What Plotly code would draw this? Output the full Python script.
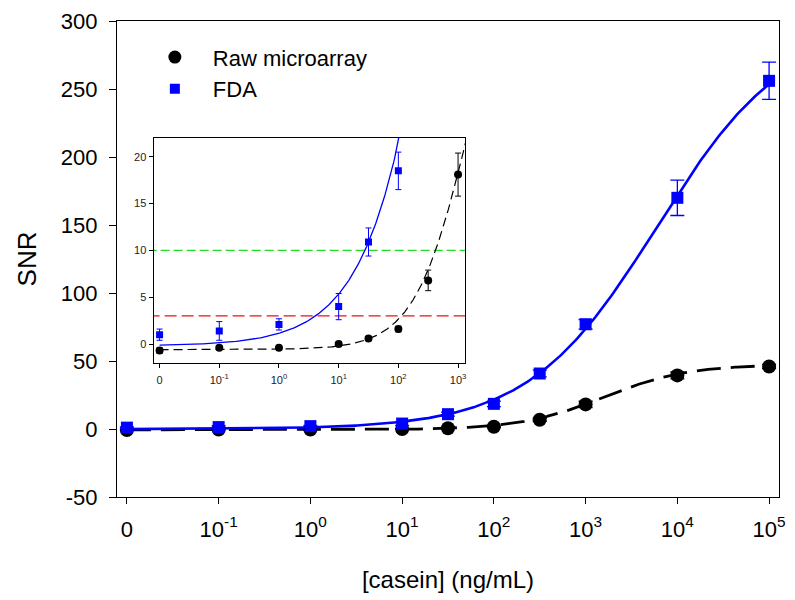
import numpy as np
import plotly.graph_objects as go

# ---- data ----
conc = [0, 0.1, 1, 10, 31.6, 100, 316, 1000, 10000, 100000]
raw_snr = [-0.7, -0.4, -0.4, 0.0, 0.6, 1.6, 6.8, 18.1, 39.4, 46.0]
raw_err = [0.3, 0.2, 0.2, 0.2, 0.2, 0.3, 1.1, 2.3, 2.5, 1.5]
fda_snr = [1.0, 1.4, 2.1, 4.0, 10.9, 18.5, 40.8, 77.0, 170.0, 256.0]
fda_err = [0.6, 1.0, 0.6, 1.4, 1.5, 2.0, 2.5, 3.5, 13.0, 13.7]

tick_pos = [-2, -1, 0, 1, 2, 3, 4, 5]
tick_txt = ["0", "10<sup>-1</sup>", "10<sup>0</sup>", "10<sup>1</sup>", "10<sup>2</sup>",
            "10<sup>3</sup>", "10<sup>4</sup>", "10<sup>5</sup>"]
inset_tick_pos = [-2, -1, 0, 1, 2, 3]
inset_tick_txt = tick_txt[:6]
y_ticks = [-50, 0, 50, 100, 150, 200, 250, 300]
y_tick_txt = ["-50", "0", "50", "100", "150", "200", "250", "300"]
inset_y_ticks = [0, 5, 10, 15, 20]

# four-parameter logistic fits (bottom, top, log10 EC50, hill slope)
raw_fit = (-0.6, 47.5, 3.2, 0.95)
fda_fit = (-0.2, 298.0, 3.78, 0.62)
lod_lines = [3, 10]

ZERO_POS = -2  # the "0" concentration is drawn one decade left of 10^-1


def pos(c):
    return np.log10(c) if c > 0 else ZERO_POS


xp = [pos(c) for c in conc]


def logistic(p, lx):
    b, t, c, h = p
    return b + (t - b) / (1 + 10 ** ((c - lx) * h))


lx = np.linspace(-2, 5, 400)
raw_curve = logistic(raw_fit, lx)
fda_curve = logistic(fda_fit, lx)

FONT = "Liberation Sans, Arial, sans-serif"
fig = go.Figure()

# main curves
fig.add_trace(go.Scatter(x=lx, y=raw_curve, mode="lines", showlegend=False,
                         line=dict(color="black", width=2.8, dash="24px,10px")))
fig.add_trace(go.Scatter(x=lx, y=fda_curve, mode="lines", showlegend=False,
                         line=dict(color="#0000ff", width=2.6)))
# main points
fig.add_trace(go.Scatter(x=xp, y=raw_snr, mode="markers", showlegend=False,
                         marker=dict(symbol="circle", size=14, color="black"),
                         error_y=dict(type="data", array=raw_err, color="black", width=7, thickness=1.3)))
fig.add_trace(go.Scatter(x=xp, y=fda_snr, mode="markers", showlegend=False,
                         marker=dict(symbol="square", size=12, color="#0000ff"),
                         error_y=dict(type="data", array=fda_err, color="#0000ff", width=7, thickness=1.3)))

# legend entries
fig.add_trace(go.Scatter(x=[None], y=[None], mode="markers", name="Raw microarray",
                         marker=dict(symbol="circle", size=13, color="black")))
fig.add_trace(go.Scatter(x=[None], y=[None], mode="markers", name="FDA",
                         marker=dict(symbol="square", size=10, color="#0000ff")))

# inset
lxi = np.linspace(-2, 3.2, 400)
fig.add_trace(go.Scatter(x=[-2.2, 3.3], y=[lod_lines[1]] * 2, mode="lines", xaxis="x2", yaxis="y2",
                         showlegend=False, line=dict(color="#22dd22", width=1.3, dash="9px,4px")))
fig.add_trace(go.Scatter(x=[-2.2, 3.3], y=[lod_lines[0]] * 2, mode="lines", xaxis="x2", yaxis="y2",
                         showlegend=False, line=dict(color="#ee1111", width=1.3, dash="12px,5px")))
fig.add_trace(go.Scatter(x=lxi, y=logistic(raw_fit, lxi), mode="lines", xaxis="x2", yaxis="y2",
                         showlegend=False, line=dict(color="black", width=1.2, dash="9px,5px")))
fig.add_trace(go.Scatter(x=lxi, y=logistic(fda_fit, lxi), mode="lines", xaxis="x2", yaxis="y2",
                         showlegend=False, line=dict(color="#0000ff", width=1.3)))
fig.add_trace(go.Scatter(x=xp[:8], y=raw_snr[:8], mode="markers", xaxis="x2", yaxis="y2", showlegend=False,
                         marker=dict(symbol="circle", size=8, color="black"),
                         error_y=dict(type="data", array=raw_err[:8], color="black", width=3, thickness=1)))
fig.add_trace(go.Scatter(x=xp[:6], y=fda_snr[:6], mode="markers", xaxis="x2", yaxis="y2", showlegend=False,
                         marker=dict(symbol="square", size=7, color="#0000ff"),
                         error_y=dict(type="data", array=fda_err[:6], color="#0000ff", width=3, thickness=1)))

axis_common = dict(showline=True, linecolor="black", linewidth=1.3, mirror=True,
                   showgrid=False, zeroline=False, ticks="outside", tickcolor="black")

fig.update_layout(
    width=795, height=600,
    margin=dict(l=117, r=9, t=18, b=103),
    plot_bgcolor="white", paper_bgcolor="white",
    font=dict(family=FONT, color="black"),
    xaxis=dict(axis_common, range=[-2.108, 5.108], tickvals=tick_pos, ticktext=tick_txt,
               ticklen=6, tickfont=dict(size=22), ticklabelstandoff=6,
               title=dict(text="[casein] (ng/mL)", font=dict(size=24), standoff=30)),
    yaxis=dict(axis_common, range=[-50, 300], tickvals=y_ticks, ticktext=y_tick_txt,
               ticklen=7, tickfont=dict(size=22), ticklabelstandoff=7,
               title=dict(text="SNR", font=dict(size=26), standoff=16)),
    xaxis2=dict(axis_common, domain=[0.0553, 0.526], anchor="y2", range=[-2.1, 3.12],
                tickvals=inset_tick_pos, ticktext=inset_tick_txt, ticklen=4, linewidth=1.2,
                tickfont=dict(size=11, color="#222222"), ticklabelstandoff=3),
    yaxis2=dict(axis_common, domain=[0.282, 0.754], anchor="x2", range=[-2, 22],
                tickvals=inset_y_ticks, ticklen=4, linewidth=1.2,
                tickfont=dict(size=11, color="#222222")),
    legend=dict(x=0.03, y=0.968, xanchor="left", yanchor="top", bgcolor="rgba(0,0,0,0)",
                font=dict(size=22), itemwidth=66, tracegroupgap=0),
)

fig.write_html("out.html")
